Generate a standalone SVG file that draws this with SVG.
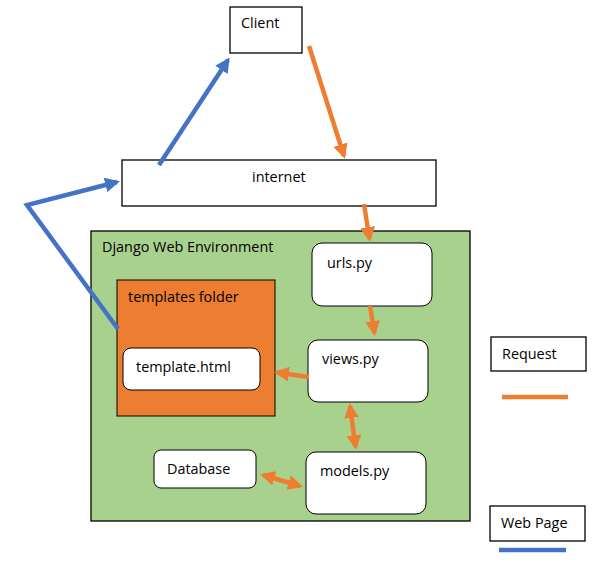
<svg xmlns="http://www.w3.org/2000/svg" width="608" height="567" viewBox="0 0 608 567">
<style>
text{font-family:"Open Sans","Noto Sans",sans-serif;font-size:14.4px;fill:#000}
.box{fill:#fff;stroke:#000;stroke-width:1.3}
.rbox{fill:#fff;stroke:#000;stroke-width:1}
.or{stroke:#ED7D31;stroke-width:4.5;fill:none}
.bl{stroke:#4472C4;stroke-width:4.5;fill:none}
</style>
<defs>
<marker id="ao" viewBox="0 0 10 10" refX="8" refY="5" markerWidth="3.3" markerHeight="3.3" orient="auto-start-reverse" markerUnits="strokeWidth"><path d="M0,0L10,5L0,10z" fill="#ED7D31"/></marker>
<marker id="ab" viewBox="0 0 10 10" refX="8" refY="5" markerWidth="3.3" markerHeight="3.3" orient="auto-start-reverse" markerUnits="strokeWidth"><path d="M0,0L10,5L0,10z" fill="#4472C4"/></marker>
</defs>
<g id="client"><rect class="box" x="230" y="7" width="72" height="46"/><text x="241" y="28">Client</text></g>
<g id="internet"><rect class="box" x="122" y="160" width="314" height="46"/><text x="252" y="182">internet</text></g>
<g id="env"><rect x="91" y="231" width="379" height="290" fill="#A9D18E" stroke="#000" stroke-width="1.3"/><text x="102" y="252">Django Web Environment</text></g>
<g id="urls"><rect class="rbox" x="312" y="243" width="120" height="63" rx="10"/><text x="327" y="268">urls.py</text></g>
<g id="templates"><rect x="117" y="280" width="158" height="136" fill="#ED7D31" stroke="#000" stroke-width="1"/><text x="128" y="302">templates folder</text></g>
<g id="template"><rect class="rbox" x="123" y="348" width="137" height="42" rx="8"/><text x="136" y="372">template.html</text></g>
<g id="views"><rect class="rbox" x="308" y="340" width="120" height="62" rx="10"/><text x="322" y="364">views.py</text></g>
<g id="database"><rect class="rbox" x="154" y="450" width="102" height="38" rx="7"/><text x="167" y="474">Database</text></g>
<g id="models"><rect class="rbox" x="306" y="452" width="120" height="62" rx="10"/><text x="320" y="476">models.py</text></g>
<g id="legend-request"><rect class="box" x="491" y="337" width="95" height="34"/><text x="502" y="359">Request</text><line class="or" x1="502" y1="397" x2="568" y2="397"/></g>
<g id="legend-webpage"><rect class="box" x="490" y="506" width="95" height="35"/><text x="501" y="528">Web Page</text><line class="bl" x1="499" y1="550" x2="566" y2="550"/></g>
<g id="connectors">
<line class="or" x1="309" y1="46" x2="344" y2="156" marker-end="url(#ao)"/>
<line class="bl" x1="159" y1="165" x2="228" y2="60" marker-end="url(#ab)"/>
<polyline class="bl" points="118,329 27,205 117,182" marker-end="url(#ab)"/>
<line class="or" x1="364" y1="204" x2="369.5" y2="239" marker-end="url(#ao)"/>
<line class="or" x1="370" y1="306" x2="374.5" y2="333" marker-end="url(#ao)"/>
<line class="or" x1="309" y1="377" x2="277" y2="372.5" marker-end="url(#ao)"/>
<line class="or" x1="350" y1="406" x2="355.5" y2="447" marker-start="url(#ao)" marker-end="url(#ao)"/>
<line class="or" x1="263" y1="475" x2="300" y2="486" marker-start="url(#ao)" marker-end="url(#ao)"/>
</g>
</svg>
